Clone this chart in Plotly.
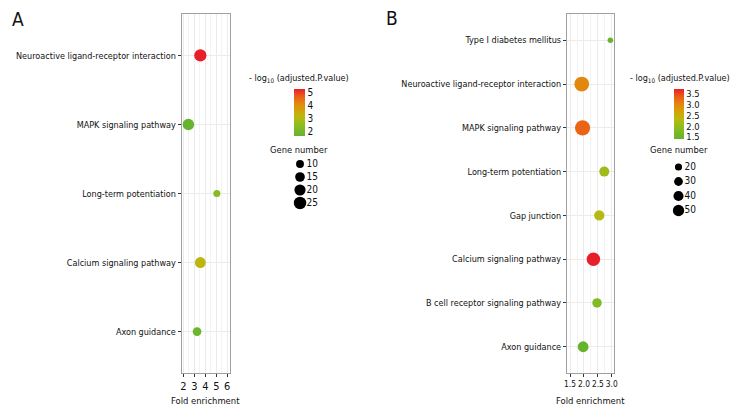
import plotly.graph_objects as go

# ---------------- data ----------------
pathways_a = ["Neuroactive ligand-receptor interaction", "MAPK signaling pathway",
              "Long-term potentiation", "Calcium signaling pathway", "Axon guidance"]
fold_a = [3.55, 2.46, 5.05, 3.55, 3.25]
genes_a = [24, 21, 8, 19, 12]
logp_a = [5.29, 1.61, 2.35, 3.2, 1.75]

pathways_b = ["Type I diabetes mellitus", "Neuroactive ligand-receptor interaction",
              "MAPK signaling pathway", "Long-term potentiation", "Gap junction",
              "Calcium signaling pathway", "B cell receptor signaling pathway", "Axon guidance"]
fold_b = [2.95, 1.92, 1.95, 2.73, 2.55, 2.34, 2.47, 1.97]
genes_b = [12, 86, 90, 39, 41, 71, 35, 46]
logp_b = [1.48, 3.0, 3.3, 2.1, 2.3, 3.73, 1.8, 1.41]

size_breaks_a = [10, 15, 20, 25]
size_breaks_b = [20, 30, 40, 50]

# ---------------- style ----------------
W, H = 744, 420
FONT = "DejaVu Sans Condensed, DejaVu Sans, sans-serif"
TXT = "#111111"
FS = 9.0
CSCALE = [[0.0, "#66B32E"], [0.2, "#86BC22"], [0.4, "#B8BA10"], [0.55, "#D3A306"],
          [0.7, "#E58510"], [0.85, "#EC5A18"], [1.0, "#E81F2A"]]
SIZEREF_A = 0.32
SIZEREF_B = 0.78


def px_x(p):
    return p / W


def px_y(p):
    return 1 - p / H


fig = go.Figure()

fig.add_trace(go.Scatter(
    x=fold_a, y=pathways_a, mode="markers", xaxis="x", yaxis="y", showlegend=False,
    marker=dict(size=genes_a, sizemode="area", sizeref=SIZEREF_A, color=logp_a,
                colorscale=CSCALE, line=dict(width=0), opacity=1,
                colorbar=dict(x=px_x(294), xanchor="left", y=px_y(89), yanchor="top",
                              lenmode="pixels", len=47, thicknessmode="pixels", thickness=11,
                              xpad=0, ypad=0, outlinewidth=0, ticks="",
                              tickmode="linear", tick0=0, dtick=1,
                              tickfont=dict(family=FONT, size=10, color=TXT)))))

fig.add_trace(go.Scatter(
    x=fold_b, y=pathways_b, mode="markers", xaxis="x2", yaxis="y2", showlegend=False,
    marker=dict(size=genes_b, sizemode="area", sizeref=SIZEREF_B, color=logp_b,
                colorscale=CSCALE, line=dict(width=0), opacity=1,
                colorbar=dict(x=px_x(674), xanchor="left", y=px_y(89), yanchor="top",
                              lenmode="pixels", len=50, thicknessmode="pixels", thickness=10,
                              xpad=0, ypad=0, outlinewidth=0, ticks="",
                              tickmode="linear", tick0=0, dtick=0.5, tickformat=".1f",
                              tickfont=dict(family=FONT, size=9.3, color=TXT)))))

# size legends (aux axes)
lab_a = [str(v) for v in size_breaks_a]
lab_b = [str(v) for v in size_breaks_b]
fig.add_trace(go.Scatter(x=[0] * len(size_breaks_a), y=lab_a, mode="markers", xaxis="x3", yaxis="y3",
                         showlegend=False, hoverinfo="skip",
                         marker=dict(size=size_breaks_a, sizemode="area", sizeref=SIZEREF_A,
                                     color="#000000", opacity=1, line=dict(width=0))))
fig.add_trace(go.Scatter(x=[1] * len(size_breaks_a), y=lab_a, text=lab_a, mode="text", xaxis="x3", yaxis="y3",
                         showlegend=False, hoverinfo="skip", textposition="middle right",
                         textfont=dict(family=FONT, size=10, color=TXT)))
fig.add_trace(go.Scatter(x=[0] * len(size_breaks_b), y=lab_b, mode="markers", xaxis="x4", yaxis="y4",
                         showlegend=False, hoverinfo="skip",
                         marker=dict(size=size_breaks_b, sizemode="area", sizeref=SIZEREF_B,
                                     color="#000000", opacity=1, line=dict(width=0))))
fig.add_trace(go.Scatter(x=[1] * len(size_breaks_b), y=lab_b, text=lab_b, mode="text", xaxis="x4", yaxis="y4",
                         showlegend=False, hoverinfo="skip", textposition="middle right",
                         textfont=dict(family=FONT, size=10, color=TXT)))

ydom = [px_y(373), px_y(14)]


def xax(domain, rng, dtick, minor_dtick, fsize, fmt=None):
    d = dict(domain=domain, range=rng, showgrid=True, gridcolor="#EBEBEB", gridwidth=1,
             zeroline=False, showline=True, mirror=True, linecolor="#A0A0A0", linewidth=1.2,
             ticks="outside", ticklen=3, tickcolor="#333333", tickwidth=1, tickangle=0,
             tickmode="linear", tick0=0, dtick=dtick, automargin=False,
             tickfont=dict(family=FONT, size=fsize, color=TXT),
             minor=dict(dtick=minor_dtick, tick0=0, showgrid=True, gridcolor="#F3F3F3", gridwidth=1, ticks=""))
    if fmt:
        d["tickformat"] = fmt
    return d


def yax(cats):
    return dict(domain=ydom, type="category", categoryorder="array", categoryarray=cats,
                range=[len(cats) - 0.4, -0.6], showgrid=True, gridcolor="#EBEBEB", gridwidth=1,
                zeroline=False, showline=True, mirror=True, linecolor="#A0A0A0", linewidth=1.2,
                ticks="outside", ticklen=3, tickcolor="#333333", tickwidth=1, automargin=False,
                tickfont=dict(family=FONT, size=FS, color=TXT))


fig.update_layout(
    width=W, height=H, autosize=False, template="none",
    margin=dict(l=0, r=0, t=0, b=0, pad=0),
    paper_bgcolor="white", plot_bgcolor="white",
    xaxis=xax([px_x(181.7), px_x(230)], [1.85, 6.25], 1, 0.5, 11) | dict(anchor="y"),
    yaxis=yax(pathways_a) | dict(anchor="x"),
    xaxis2=xax([px_x(567), px_x(614)], [1.39, 3.08], 0.5, 0.25, 8.3, ".1f") | dict(anchor="y2"),
    yaxis2=yax(pathways_b) | dict(anchor="x2"),
    xaxis3=dict(domain=[px_x(293.5), px_x(319.5)], range=[-1, 3], visible=False, anchor="y3"),
    yaxis3=dict(domain=[px_y(209.5), px_y(157.5)], type="category", categoryorder="array",
                categoryarray=lab_a, range=[len(lab_a) - 0.5, -0.5], visible=False, anchor="x3"),
    xaxis4=dict(domain=[px_x(672.5), px_x(696.5)], range=[-1, 3], visible=False, anchor="y4"),
    yaxis4=dict(domain=[px_y(217.75), px_y(159.75)], type="category", categoryorder="array",
                categoryarray=lab_b, range=[len(lab_b) - 0.5, -0.5], visible=False, anchor="x4"),
    font=dict(family=FONT, color=TXT),
)

ann = []
ann.append(dict(text="A", x=px_x(18), y=px_y(19), xref="paper", yref="paper", showarrow=False,
                font=dict(family=FONT, size=19, color=TXT), xanchor="center", yanchor="middle"))
ann.append(dict(text="B", x=px_x(392), y=px_y(18), xref="paper", yref="paper", showarrow=False,
                font=dict(family=FONT, size=19, color=TXT), xanchor="center", yanchor="middle"))
for xr in ["x domain", "x2 domain"]:
    ann.append(dict(text="Fold enrichment", x=0.5, xref=xr, y=px_y(400), yref="paper", showarrow=False,
                    font=dict(family=FONT, size=9.4, color=TXT), xanchor="center", yanchor="middle"))
for cx in [299, 680]:
    ann.append(dict(text="- log<sub>10</sub> (adjusted.P.value)", x=px_x(cx), y=px_y(78), xref="paper",
                    yref="paper", showarrow=False, font=dict(family=FONT, size=9.0, color=TXT),
                    xanchor="center", yanchor="middle"))
for cx in [299, 679]:
    ann.append(dict(text="Gene number", x=px_x(cx), y=px_y(149), xref="paper", yref="paper",
                    showarrow=False, font=dict(family=FONT, size=9.3, color=TXT),
                    xanchor="center", yanchor="middle"))
fig.update_layout(annotations=ann)

fig.write_html("out.html", config={"displayModeBar": False},
               post_script="document.body.style.margin='0px';")
